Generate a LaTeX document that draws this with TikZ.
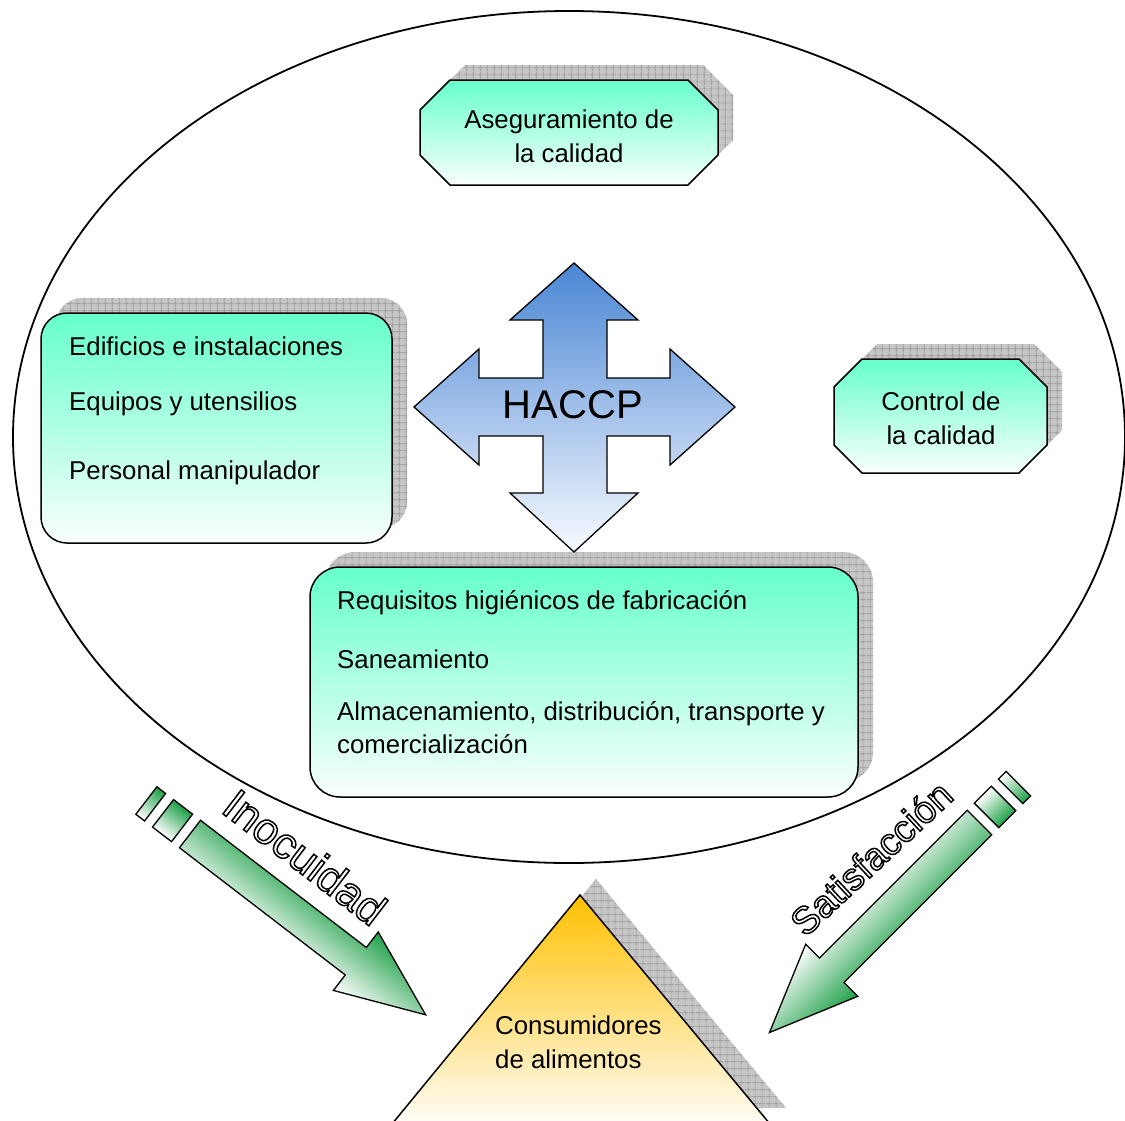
\documentclass[tikz,border=0pt]{standalone}
\usepackage{fontspec}
\setmainfont{Liberation Sans}
\usetikzlibrary{patterns.meta}

\definecolor{aqua}{RGB}{102,255,204}
\definecolor{paleaqua}{RGB}{250,255,253}
\definecolor{haccpblue}{RGB}{74,134,212}
\definecolor{paleblue}{RGB}{248,250,255}
\definecolor{leafgreen}{RGB}{30,160,72}
\definecolor{amber}{RGB}{255,192,0}
\definecolor{peach}{RGB}{253,224,165}
\definecolor{cream}{RGB}{255,253,248}
\definecolor{shadowfill}{RGB}{198,198,198}
\definecolor{shadowline}{RGB}{150,150,150}

% square grid used on the drop shadows
\tikzdeclarepattern{
  name=shadowgrid,
  type=uncolored,
  bottom left={(0pt,0pt)},
  top right={(6.7pt,6.7pt)},
  tile size={(6.7pt,6.7pt)},
  code={
    \draw[line width=0.6pt] (0pt,3.35pt) -- (6.7pt,3.35pt);
    \draw[line width=0.6pt] (3.35pt,0pt) -- (3.35pt,6.7pt);
  }
}

% white letters with a black outline
\newcommand{\outlined}[1]{\special{pdf:literal direct 0 G 1.5 w 2 Tr}#1\special{pdf:literal direct 0 Tr}}

\tikzset{
  lbl/.style={font=\fontsize{25.8}{31}\selectfont, inner sep=0pt, text=black},
  wordart/.style={font=\fontsize{44}{50}\selectfont, inner sep=0pt, text=white},
  shadowpart/.style={fill=shadowfill, draw=none,
    postaction={pattern=shadowgrid, pattern color=shadowline}},
  aquabox/.style={draw=black, line width=1.5pt, top color=aqua, bottom color=paleaqua},
  crossarrow/.style={draw=black, line width=1.3pt, top color=haccpblue, bottom color=paleblue},
  greenarrow/.style={draw=black, line width=1.3pt, top color=leafgreen, bottom color=white},
  pyramid/.style={draw=black, line width=1.5pt, top color=amber, middle color=peach, bottom color=cream},
}

\begin{document}
\begin{tikzpicture}[x=1pt, y=-1pt, line join=miter]
  \useasboundingbox (0,0) rectangle (1125,1120);
  \fill[white] (0,0) rectangle (1125,1120);

  % outer ellipse
  \draw[line width=1.8pt] (569,437) ellipse [x radius=556, y radius=426];

  % quality assurance octagon
  \begin{scope}[shift={(15,-15)}]
    \path[shadowpart] (450,80) -- (688,80) -- (718,110) -- (718,155) -- (688,185)
      -- (450,185) -- (420,155) -- (420,110) -- cycle;
  \end{scope}
  \path[aquabox] (450,80) -- (688,80) -- (718,110) -- (718,155) -- (688,185)
      -- (450,185) -- (420,155) -- (420,110) -- cycle;
  \node[lbl, anchor=base] (qa1) at (569,128) {Aseguramiento de};
  \node[lbl, anchor=base] (qa2) at (569,162) {la calidad};

  % quality control octagon
  \begin{scope}[shift={(15,-15)}]
    \path[shadowpart] (862,359) -- (1019,359) -- (1047,387) -- (1047,445) -- (1019,473)
      -- (862,473) -- (834,445) -- (834,387) -- cycle;
  \end{scope}
  \path[aquabox] (862,359) -- (1019,359) -- (1047,387) -- (1047,445) -- (1019,473)
      -- (862,473) -- (834,445) -- (834,387) -- cycle;
  \node[lbl, anchor=base] (qc1) at (941,410) {Control de};
  \node[lbl, anchor=base] (qc2) at (941,444) {la calidad};

  % facilities box
  \begin{scope}[shift={(15,-15)}]
    \path[shadowpart, rounded corners=26pt] (41,313) rectangle (392,543);
  \end{scope}
  \path[aquabox, rounded corners=26pt] (41,313) rectangle (392,543);
  \node[lbl, anchor=base west] (inf1) at (69,355) {Edificios e instalaciones};
  \node[lbl, anchor=base west] (inf2) at (69,410) {Equipos y utensilios};
  \node[lbl, anchor=base west] (inf3) at (69,479) {Personal manipulador};

  % manufacturing requirements box
  \begin{scope}[shift={(15,-15)}]
    \path[shadowpart, rounded corners=30pt] (310,567) rectangle (858,797);
  \end{scope}
  \path[aquabox, rounded corners=30pt] (310,567) rectangle (858,797);
  \node[lbl, anchor=base west] (req1) at (337,609) {Requisitos higiénicos de fabricación};
  \node[lbl, anchor=base west] (req2) at (337,668) {Saneamiento};
  \node[lbl, anchor=base west] (req3) at (337,720) {Almacenamiento, distribución, transporte y};
  \node[lbl, anchor=base west] (req4) at (337,753) {comercialización};

  % four-way HACCP arrow
  \path[crossarrow] (574,263) -- (638,320) -- (607,320) -- (607,378) -- (670,378)
    -- (670,349) -- (735,407) -- (670,465) -- (670,436) -- (607,436) -- (607,493)
    -- (638,493) -- (574,552) -- (510,493) -- (543,493) -- (543,436) -- (479,436)
    -- (479,465) -- (414,407) -- (479,349) -- (479,378) -- (543,378) -- (543,320)
    -- (510,320) -- cycle;
  \node[font=\fontsize{40}{48}\selectfont, inner sep=0pt, anchor=base] (haccp) at (573,418) {HACCP};

  % consumer pyramid
  \begin{scope}[shift={(16,-16)}]
    \path[shadowpart] (580,895) -- (770,1124) -- (392,1124) -- cycle;
  \end{scope}
  \path[pyramid] (580,895) -- (770,1124) -- (392,1124) -- cycle;
  \node[lbl, anchor=base west] (con1) at (495,1034) {Consumidores};
  \node[lbl, anchor=base west] (con2) at (495,1068) {de alimentos};

  % striped arrow towards the consumers, left
  \begin{scope}[transform canvas={shift={(190,834)}, rotate=-37.5}]
    \path[greenarrow] (0,-17.3) -- (209,-17.3) -- (209,-36.8) -- (297,0)
      -- (209,36.8) -- (209,17.3) -- (0,17.3) -- cycle;
    \path[greenarrow] (-34,-17.3) rectangle (-10,17.3);
    \path[greenarrow] (-55,-17.3) rectangle (-44,17.3);
  \end{scope}

  % striped arrow towards the consumers, right
  \begin{scope}[transform canvas={shift={(979.5,822.5)}, rotate=-135}]
    \path[greenarrow] (0,-17.3) -- (209,-17.3) -- (209,-36.8) -- (297,0)
      -- (209,36.8) -- (209,17.3) -- (0,17.3) -- cycle;
    \path[greenarrow] (-34,-17.3) rectangle (-10,17.3);
    \path[greenarrow] (-55,-17.3) rectangle (-44,17.3);
  \end{scope}

  \node[wordart, rotate=-37.5] (safety) at (305,857) {\outlined{Inocuidad}};
  \node[wordart, font=\fontsize{38}{44}\selectfont, rotate=43] (satisfaction) at (871,858) {\outlined{Satisfacción}};
\end{tikzpicture}
\end{document}
